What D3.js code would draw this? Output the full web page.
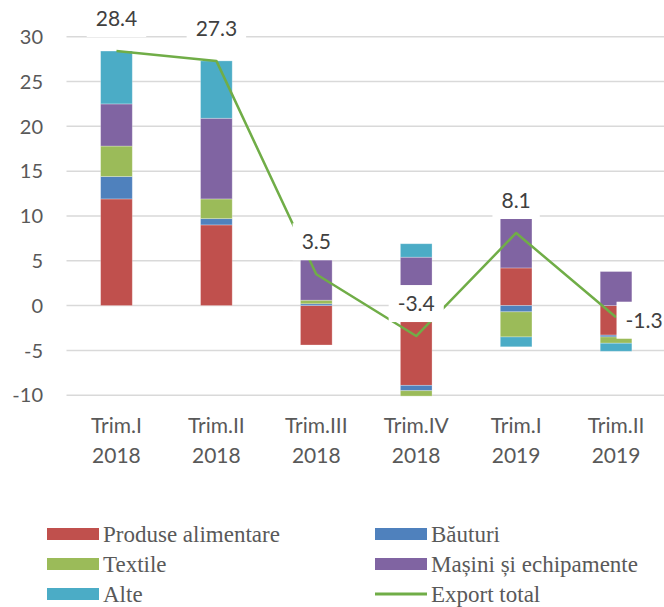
<!DOCTYPE html>
<html>
<head>
<meta charset="utf-8">
<script src="https://cdn.jsdelivr.net/npm/d3@7"></script>
<style>
  body { margin: 0; background: #fff; }
  svg { display: block; }
</style>
</head>
<body>
<div id="chart"></div>
<script>
// categories (two lines each)
const quarters = ["Trim.I", "Trim.II", "Trim.III", "Trim.IV", "Trim.I", "Trim.II"];
const years = ["2018", "2018", "2018", "2018", "2019", "2019"];

// contributions by group
const produse = [11.9, 9.0, -4.4, -8.9, 4.2, -3.3];
const bauturi = [2.5, 0.7, 0.2, -0.6, -0.7, -0.2];
const textile = [3.4, 2.2, 0.4, -0.6, -2.8, -0.7];
const masini = [4.7, 9.0, 4.5, 5.4, 5.5, 3.8];
const alte = [5.9, 6.4, 0, 1.5, -1.1, -0.9];
const exportTotal = [28.4, 27.3, 3.5, -3.4, 8.1, -1.3];

const yTicks = [-10, -5, 0, 5, 10, 15, 20, 25, 30];

const seriesNames = ["Produse alimentare", "Băuturi", "Textile", "Mașini și echipamente", "Alte"];
const seriesKeys = ["produse", "bauturi", "textile", "masini", "alte"];
const colors = ["#C0504D", "#4F81BD", "#9BBB59", "#8064A2", "#4BACC6"];
const lineColor = "#70AD47";

const width = 664, height = 607;
const numFont = "Lato, 'Open Sans', sans-serif";

const table = quarters.map((q, i) => ({
    idx: i,
    produse: produse[i], bauturi: bauturi[i], textile: textile[i],
    masini: masini[i], alte: alte[i], total: exportTotal[i]
}));

const svg = d3.select("#chart").append("svg")
    .attr("width", width)
    .attr("height", height);

const x = d3.scaleBand()
    .domain(table.map(d => d.idx))
    .range([66.5, 666])
    .paddingInner(0.683)
    .paddingOuter(0.683 / 2);

const y = d3.scaleLinear()
    .domain([-10, 30])
    .range([395.2, 36.7]);

// gridlines
svg.append("g").selectAll("line")
    .data(yTicks)
    .enter().append("line")
    .attr("x1", 66.5).attr("x2", width)
    .attr("y1", d => y(d)).attr("y2", d => y(d))
    .attr("stroke", "#D9D9D9")
    .attr("stroke-width", 1.5);

// y tick labels
svg.append("g").selectAll("text")
    .data(yTicks)
    .enter().append("text")
    .attr("x", 43)
    .attr("y", d => y(d))
    .attr("dy", "0.36em")
    .attr("text-anchor", "end")
    .attr("font-family", numFont)
    .attr("font-size", 20)
    .attr("fill", "#595959")
    .text(d => d);

// stacked bars
const stack = d3.stack()
    .keys(seriesKeys)
    .offset(d3.stackOffsetDiverging);

const layers = svg.append("g").selectAll("g")
    .data(stack(table))
    .enter().append("g")
    .attr("fill", (d, i) => colors[i]);

layers.selectAll("rect")
    .data(d => d.filter(s => s[1] - s[0] !== 0))
    .enter().append("rect")
    .attr("x", d => x(d.data.idx))
    .attr("width", x.bandwidth())
    .attr("y", d => y(Math.max(d[0], d[1])))
    .attr("height", d => Math.abs(y(d[0]) - y(d[1])))
    .attr("stroke", "#fff")
    .attr("stroke-opacity", 0.35)
    .attr("stroke-width", 0.8);

// export total line
const cx = i => x(i) + x.bandwidth() / 2;
const line = d3.line()
    .x(d => cx(d.idx))
    .y(d => y(d.total));

svg.append("path")
    .datum(table)
    .attr("d", line)
    .attr("fill", "none")
    .attr("stroke", lineColor)
    .attr("stroke-width", 2.5)
    .attr("stroke-linejoin", "round");

// data labels with white boxes
const labelG = svg.append("g");
table.forEach((d, i) => {
    const g = labelG.append("g");
    const t = g.append("text")
        .attr("font-family", numFont)
        .attr("font-size", 21)
        .attr("fill", "#404040")
        .attr("text-anchor", "middle")
        .attr("dy", "0.36em")
        .text(d.total);
    const w = t.node().getComputedTextLength() + 18;
    const h = 37;
    let bx, by;
    if (i === table.length - 1) {
        bx = cx(i) + 0.5;
        by = y(d.total) + 3 - h / 2;
    } else {
        bx = cx(i) - w / 2;
        by = y(d.total) - 14 - h;
    }
    g.insert("rect", "text")
        .attr("x", bx).attr("y", by)
        .attr("width", w).attr("height", h)
        .attr("fill", "#fff");
    t.attr("x", bx + w / 2).attr("y", by + h / 2);
});

// category labels
const cat = svg.append("g").selectAll("text")
    .data(table)
    .enter().append("text")
    .attr("text-anchor", "middle")
    .attr("font-family", numFont)
    .attr("font-size", 21)
    .attr("fill", "#595959");
cat.append("tspan")
    .attr("x", d => cx(d.idx))
    .attr("y", 433)
    .text(d => quarters[d.idx]);
cat.append("tspan")
    .attr("x", d => cx(d.idx))
    .attr("y", 463)
    .text(d => years[d.idx]);

// legend
const legendItems = [
    { name: seriesNames[0], color: colors[0], type: "bar", col: 0, row: 0 },
    { name: seriesNames[1], color: colors[1], type: "bar", col: 1, row: 0 },
    { name: seriesNames[2], color: colors[2], type: "bar", col: 0, row: 1 },
    { name: seriesNames[3], color: colors[3], type: "bar", col: 1, row: 1 },
    { name: seriesNames[4], color: colors[4], type: "bar", col: 0, row: 2 },
    { name: "Export total", color: lineColor, type: "line", col: 1, row: 2 }
];
const colX = [47, 375];
const rowY = [534, 564, 594];

const leg = svg.append("g").selectAll("g")
    .data(legendItems)
    .enter().append("g")
    .attr("transform", d => `translate(${colX[d.col]},${rowY[d.row]})`);

leg.filter(d => d.type === "bar").append("rect")
    .attr("x", 0).attr("y", -6)
    .attr("width", 52).attr("height", 12)
    .attr("fill", d => d.color);

leg.filter(d => d.type === "line").append("line")
    .attr("x1", 0).attr("x2", 52)
    .attr("y1", 0).attr("y2", 0)
    .attr("stroke", d => d.color)
    .attr("stroke-width", 3);

leg.append("text")
    .attr("x", 56)
    .attr("y", 8)
    .attr("font-family", "'Liberation Serif', 'Times New Roman', serif")
    .attr("font-size", 23)
    .attr("fill", "#595959")
    .text(d => d.name);
</script>
</body>
</html>
